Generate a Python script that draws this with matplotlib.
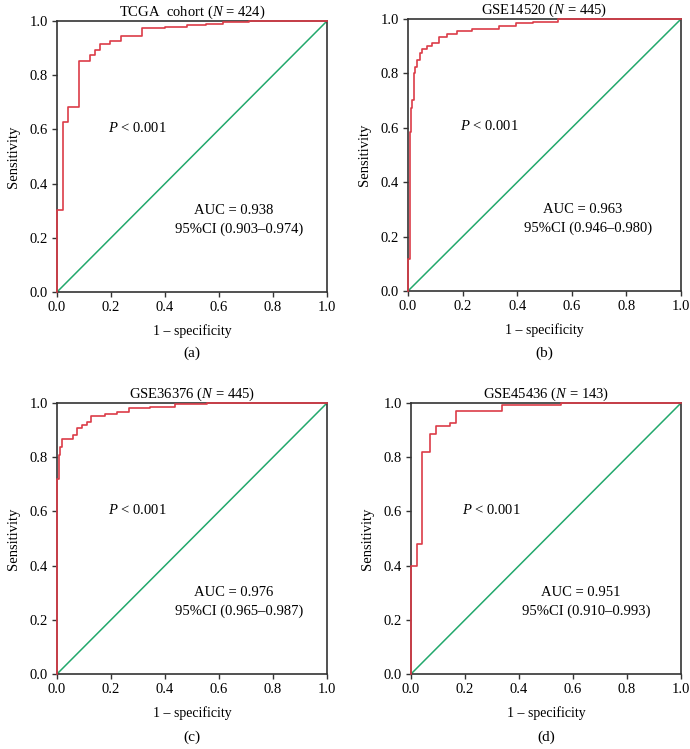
import matplotlib
matplotlib.use("Agg")
import matplotlib.pyplot as plt

plt.rcParams["font.family"] = ["Liberation Serif", "DejaVu Serif"]
plt.rcParams["mathtext.fontset"] = "custom"
plt.rcParams["mathtext.rm"] = "Liberation Serif"
plt.rcParams["mathtext.it"] = "Liberation Serif:italic"

RED = "#dc3c48"
GREEN = "#22a86c"
SPINE = "#333333"

# ROC corner points (fpr, tpr), drawn with steps-post
tcga_fpr = [0, 0, 0.022, 0.041, 0.080, 0.121, 0.140, 0.158, 0.198, 0.236, 0.316,
            0.40, 0.48, 0.55, 0.615, 0.71, 1.0]
tcga_tpr = [0, 0.302, 0.627, 0.684, 0.852, 0.875, 0.893, 0.914, 0.927, 0.946, 0.973,
            0.978, 0.985, 0.990, 0.995, 1.0, 1.0]

gse14520_fpr = [0, 0, 0.006, 0.011, 0.015, 0.021, 0.027, 0.033, 0.043, 0.051, 0.069,
                0.088, 0.112, 0.143, 0.179, 0.235, 0.332, 0.397, 0.457, 0.55, 1.0]
gse14520_tpr = [0, 0.116, 0.586, 0.672, 0.702, 0.800, 0.825, 0.850, 0.874, 0.889, 0.899,
                0.913, 0.932, 0.944, 0.957, 0.963, 0.975, 0.985, 0.990, 1.0, 1.0]

gse36376_fpr = [0, 0, 0.006, 0.012, 0.020, 0.061, 0.074, 0.092, 0.111, 0.126, 0.179,
                0.222, 0.265, 0.346, 0.438, 0.556, 1.0]
gse36376_tpr = [0, 0.718, 0.808, 0.839, 0.866, 0.882, 0.907, 0.919, 0.931, 0.952, 0.959,
                0.967, 0.980, 0.986, 0.995, 1.0, 1.0]

gse45436_fpr = [0, 0, 0.024, 0.042, 0.069, 0.091, 0.143, 0.166, 0.337, 0.556, 1.0]
gse45436_tpr = [0, 0.40, 0.48, 0.818, 0.884, 0.915, 0.927, 0.969, 0.992, 1.0, 1.0]

titles = [r"TCGA  cohort ($\mathit{N}$ = 424)", r"GSE14520 ($\mathit{N}$ = 445)",
          r"GSE36376 ($\mathit{N}$ = 445)", r"GSE45436 ($\mathit{N}$ = 143)"]
auc_labels = ["AUC = 0.938", "AUC = 0.963", "AUC = 0.976", "AUC = 0.951"]
ci_labels = ["95%CI (0.903\u20130.974)", "95%CI (0.946\u20130.980)",
             "95%CI (0.965\u20130.987)", "95%CI (0.910\u20130.993)"]
panel_tags = ["(a)", "(b)", "(c)", "(d)"]
curves = [(tcga_fpr, tcga_tpr), (gse14520_fpr, gse14520_tpr),
          (gse36376_fpr, gse36376_tpr), (gse45436_fpr, gse45436_tpr)]

W, H = 690, 749
# axes boxes in pixels: left, top, right, bottom
boxes = [(57, 21, 327, 292), (408, 19, 681, 291), (57, 403, 327, 674), (411, 403, 681, 674)]
tag_y = [353, 353, 737, 737]
auc_x = [0.655, 0.64, 0.655, 0.63]

fig = plt.figure(figsize=(W / 100, H / 100), dpi=100)

for i, (l, t, r, b) in enumerate(boxes):
    ax = fig.add_axes([l / W, 1 - b / H, (r - l) / W, (b - t) / H])
    fpr, tpr = curves[i]
    ax.plot([0, 1], [0, 1], color=GREEN, lw=1.1, zorder=2)
    ax.plot(fpr, tpr, color=RED, lw=1.2, drawstyle="steps-post", zorder=3, clip_on=False)
    ax.set_xlim(0, 1.0)
    ax.set_ylim(0, 1.0)
    ax.set_xticks([0, 0.2, 0.4, 0.6, 0.8, 1.0])
    ax.set_yticks([0, 0.2, 0.4, 0.6, 0.8, 1.0])
    ax.set_xticklabels(["0.0", "0.2", "0.4", "0.6", "0.8", "1.0"])
    ax.set_yticklabels(["0.0", "0.2", "0.4", "0.6", "0.8", "1.0"])
    ax.tick_params(direction="out", length=3.5, width=1, labelsize=10.5, color=SPINE, pad=3)
    for s in ax.spines.values():
        s.set_color(SPINE)
        s.set_linewidth(1.2)
    ax.set_title(titles[i], fontsize=10.5, pad=3)
    ax.set_xlabel("1 \u2013 specificity", fontsize=10, labelpad=7)
    ax.set_ylabel("Sensitivity", fontsize=10.5, labelpad=7)
    ax.text(0.19, 0.605, r"$\mathit{P}$ < 0.001", fontsize=10.5, ha="left", va="center")
    ax.text(auc_x[i], 0.30, auc_labels[i], fontsize=10.5, ha="center", va="center")
    ax.text(auc_x[i] + 0.02, 0.232, ci_labels[i], fontsize=10.5, ha="center", va="center")
    fig.text((l + r) / 2 / W, 1 - tag_y[i] / H, panel_tags[i], fontsize=11, ha="center", va="center")

fig.savefig("out.png", dpi=100)
